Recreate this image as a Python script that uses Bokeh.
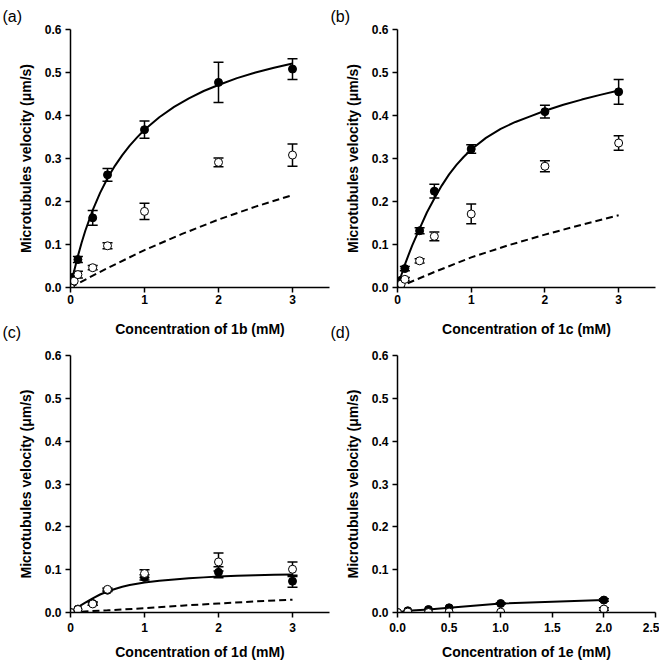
from bokeh.plotting import figure
from bokeh.layouts import column, row
from bokeh.models import FixedTicker, Title, PrintfTickFormatter
from bokeh.embed import file_html
from bokeh.resources import INLINE

FONT = "Liberation Sans"

# ---------------- data ----------------
y_ticks = [0.0, 0.1, 0.2, 0.3, 0.4, 0.5, 0.6]
y_title = "Microtubules velocity (\u03bcm/s)"

# panel (a) compound 1b
conc_a = [0, 0.05, 0.1, 0.3, 0.5, 1, 2, 3]
filled_a = [0, 0.025, 0.065, 0.162, 0.262, 0.367, 0.477, 0.508]
filled_a_err = [0, 0, 0.007, 0.017, 0.015, 0.020, 0.047, 0.024]
open_a = [0, 0.015, 0.030, 0.046, 0.097, 0.177, 0.291, 0.308]
open_a_err = [0, 0, 0.008, 0.005, 0.007, 0.019, 0.010, 0.026]
fit_x = [0, 0.025, 0.05, 0.1, 0.15, 0.2, 0.3, 0.4, 0.5, 0.6, 0.7, 0.8, 0.9, 1.0,
         1.2, 1.4, 1.6, 1.8, 2.0, 2.25, 2.5, 2.75, 3.0]
fit_a_y = [0, 0.020, 0.039, 0.073, 0.104, 0.132, 0.180, 0.220, 0.254, 0.283, 0.308,
           0.330, 0.349, 0.367, 0.396, 0.420, 0.440, 0.457, 0.471, 0.487, 0.500, 0.511, 0.521]
dash_x = [0, 0.25, 0.5, 1, 1.5, 2, 2.5, 3]
dash_a_y = [0, 0.023, 0.045, 0.087, 0.124, 0.158, 0.188, 0.215]

# panel (b) compound 1c
conc_b = [0, 0.05, 0.1, 0.3, 0.5, 1, 2, 3]
filled_b = [0, 0.017, 0.044, 0.132, 0.224, 0.322, 0.409, 0.455]
filled_b_err = [0, 0, 0.005, 0.007, 0.016, 0.010, 0.015, 0.029]
open_b = [0, 0.008, 0.019, 0.062, 0.119, 0.171, 0.282, 0.336]
open_b_err = [0, 0, 0.004, 0.005, 0.010, 0.023, 0.013, 0.017]
fit_b_y = [0, 0.014, 0.028, 0.053, 0.076, 0.098, 0.137, 0.175, 0.207, 0.237, 0.263,
           0.285, 0.304, 0.321, 0.348, 0.369, 0.385, 0.398, 0.411, 0.425, 0.437, 0.448, 0.458]
dash_b_y = [0, 0.018, 0.036, 0.070, 0.098, 0.123, 0.146, 0.168]

# panel (c) compound 1d
conc_c = [0, 0.1, 0.3, 0.5, 1, 2, 3]
filled_c = [0, 0.008, 0.021, 0.052, 0.082, 0.094, 0.073]
filled_c_err = [0, 0, 0.004, 0.003, 0.006, 0.013, 0.014]
open_c = [0, 0.007, 0.020, 0.054, 0.091, 0.118, 0.101]
open_c_err = [0, 0, 0.003, 0.003, 0.009, 0.021, 0.017]
fit_c_y = [0, 0.003, 0.006, 0.012, 0.018, 0.023, 0.033, 0.042, 0.049, 0.055, 0.060,
           0.064, 0.067, 0.070, 0.074, 0.077, 0.080, 0.082, 0.084, 0.086, 0.087, 0.088, 0.089]
dash_c_y = [0, 0.003, 0.005, 0.010, 0.016, 0.021, 0.026, 0.030]

# panel (d) compound 1e
conc_d = [0, 0.1, 0.3, 0.5, 1, 2]
filled_d = [0, 0.004, 0.007, 0.011, 0.021, 0.029]
filled_d_err = [0, 0, 0, 0, 0.002, 0.003]
open_d = [0, 0.001, 0.000, 0.001, 0.001, 0.008]
open_d_err = [0, 0, 0, 0, 0, 0.003]

x_ticks_abc = [0, 1, 2, 3]
x_ticks_d = [0.0, 0.5, 1.0, 1.5, 2.0, 2.5]
panel_names = ["(a)", "(b)", "(c)", "(d)"]


def make_panel(width, height, bl, br, bt, bb, xmax, xticks, xfmt, xlabel,
               tick_standoff, lab_standoff):
    p = figure(width=width, height=height, x_range=(0, xmax), y_range=(0, 0.6),
               output_backend="svg", toolbar_location=None,
               min_border_left=bl, min_border_right=br,
               min_border_top=bt, min_border_bottom=bb)
    p.outline_line_color = None
    p.xgrid.visible = False
    p.ygrid.visible = False
    p.background_fill_color = "white"
    p.border_fill_color = "white"
    for ax in (p.xaxis[0], p.yaxis[0]):
        ax.axis_line_width = 1.5
        ax.axis_line_color = "black"
        ax.major_tick_line_width = 1.5
        ax.major_tick_line_color = "black"
        ax.major_tick_in = 0
        ax.major_tick_out = 5
        ax.minor_tick_in = 0
        ax.minor_tick_out = 0
        ax.major_label_text_font = FONT
        ax.major_label_text_font_style = "bold"
        ax.major_label_text_font_size = "12px"
        ax.major_label_text_color = "black"
        ax.axis_label_text_font = FONT
        ax.axis_label_text_font_style = "bold"
        ax.axis_label_text_font_size = "14px"
        ax.axis_label_text_color = "black"
    p.yaxis.ticker = FixedTicker(ticks=y_ticks)
    p.yaxis.formatter = PrintfTickFormatter(format="%.1f")
    p.yaxis.axis_label = y_title
    p.yaxis.major_label_standoff = 4
    p.yaxis.axis_label_standoff = 8
    p.xaxis.ticker = FixedTicker(ticks=xticks)
    p.xaxis.formatter = PrintfTickFormatter(format=xfmt)
    p.xaxis.axis_label = xlabel
    p.xaxis.major_label_standoff = tick_standoff
    p.xaxis.axis_label_standoff = lab_standoff
    return p


def draw_data(p, conc, filled, ferr, opn, oerr):
    for ys, es in ((filled, ferr), (opn, oerr)):
        xs = [x for x, e in zip(conc, es) if e > 0]
        lo = [y - e for y, e in zip(ys, es) if e > 0]
        hi = [y + e for y, e in zip(ys, es) if e > 0]
        if xs:
            p.segment(x0=xs, y0=lo, x1=xs, y1=hi, line_color="black", line_width=1.5)
            p.dash(x=xs, y=lo, size=10, line_color="black", line_width=1.5)
            p.dash(x=xs, y=hi, size=10, line_color="black", line_width=1.5)
    p.scatter(x=conc, y=filled, marker="circle", size=8, fill_color="black",
              line_color="black", line_width=1)
    p.scatter(x=conc, y=opn, marker="circle", size=8, fill_color="white",
              line_color="black", line_width=1)


def panel_title(p, text, offset, standoff, place):
    p.add_layout(Title(text=text, align="left", vertical_align="top", offset=offset,
                       standoff=standoff, text_font=FONT, text_font_size="16px",
                       text_font_style="normal", text_color="black"), place)


pa = make_panel(330, 342, 70, 1, 29, 55, 3.5, x_ticks_abc, "%d",
                "Concentration of 1b (mM)", 2, 14)
pa.line(fit_x, fit_a_y, line_color="black", line_width=2)
pa.line(dash_x, dash_a_y, line_color="black", line_width=2, line_dash="7 4")
draw_data(pa, conc_a, filled_a, filled_a_err, open_a, open_a_err)
panel_title(pa, panel_names[0], -68, 6, "above")
panel_title(pa, panel_names[2], -68, -32, "below")

pb = make_panel(329, 342, 67, 4, 29, 55, 3.5, x_ticks_abc, "%d",
                "Concentration of 1c (mM)", 2, 14)
pb.line(fit_x, fit_b_y, line_color="black", line_width=2)
pb.line(dash_x, dash_b_y, line_color="black", line_width=2, line_dash="7 4")
draw_data(pb, conc_b, filled_b, filled_b_err, open_b, open_b_err)
panel_title(pb, panel_names[1], -67, 6, "above")
panel_title(pb, panel_names[3], -67, -32, "below")

pc = make_panel(330, 320, 70, 1, 12, 49, 3.5, x_ticks_abc, "%d",
                "Concentration of 1d (mM)", 5, 9)
pc.line(fit_x, fit_c_y, line_color="black", line_width=2)
pc.line(dash_x, dash_c_y, line_color="black", line_width=2, line_dash="7 4")
draw_data(pc, conc_c, filled_c, filled_c_err, open_c, open_c_err)

pd_ = make_panel(329, 320, 67, 4, 13, 49, 2.5, x_ticks_d, "%.1f",
                 "Concentration of 1e (mM)", 5, 9)
pd_.line(conc_d, filled_d, line_color="black", line_width=2)
draw_data(pd_, conc_d, filled_d, filled_d_err, open_d, open_d_err)

layout = column(row(pa, pb), row(pc, pd_))

open("out.html", "w").write(file_html(layout, INLINE))
